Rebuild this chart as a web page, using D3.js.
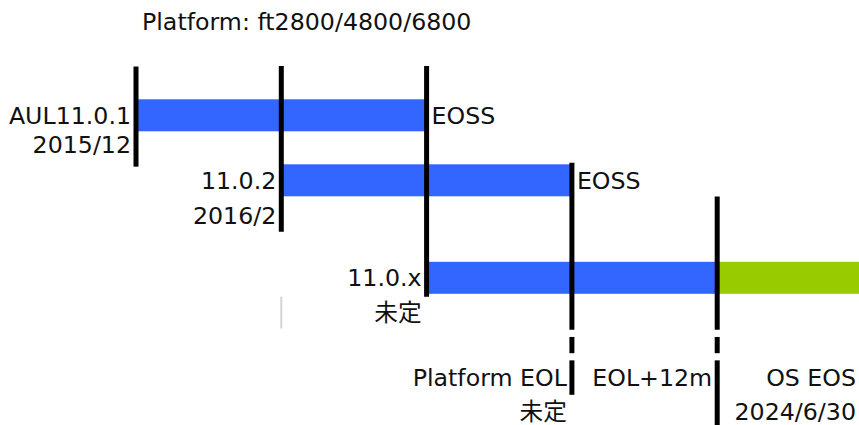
<!DOCTYPE html>
<html>
    <head>
        <title>Platform timeline</title>
        <style>
            body { margin: 0; background: #fff; }
            text { font-family: "DejaVu Sans", "Noto Sans CJK JP", sans-serif; font-size: 23.7px; fill: #111; }
        </style>
    </head>
    <body>
        <svg width="859" height="425" id="lienzo"></svg>

        <script src="https://cdn.jsdelivr.net/npm/d3@7/dist/d3.min.js"></script>
        <script>
            // releases: name, release date, start step, end step, end label
            const releaseNames = ["AUL11.0.1", "11.0.2", "11.0.x"]
            const releaseDates = ["2015/12", "2016/2", "未定"]
            const releaseRows = [0, 1, 2.5]
            const releaseDateRows = [0.585, 1.67, 3.16]
            const releaseStart = [0, 1, 2]
            const releaseEnd = [2, 3, 4]
            const releaseEndLabels = ["EOSS", "EOSS", ""]

            // OS support after EOL+12m (runs off the right edge)
            const osSupport = [4, 5.2]

            // vertical markers: step, top row, bottom row of the solid part
            const markerSteps = [0, 1, 2, 3, 4]
            const markerTop = [-0.75, -0.76, -0.76, 0.73, 1.25]
            const markerBottom = [0.79, 1.79, 2.79, 3.30, 3.30]
            // lower markers: dash part and lower solid part
            const lowerSteps = [3, 4]
            const dashTop = [3.41, 3.41]
            const dashBottom = [3.66, 3.66]
            const lowerTop = [3.77, 3.77]
            const lowerBottom = [4.30, 4.77]

            // milestone labels under the chart
            const milestoneSteps = [3, 4, 5]
            const milestoneNames = ["Platform EOL", "EOL+12m", "OS EOS"]
            const milestoneDates = ["未定", "", "2024/6/30"]

            const title = "Platform: ft2800/4800/6800"

            const svg = d3.select("#lienzo")

            const xScale = d3.scaleLinear()
                .domain([0, 1])
                .range([136, 281.3])

            const yScale = d3.scaleLinear()
                .domain([0, 1])
                .range([115.3, 180.3])

            const barHalf = 16

            svg.append("text")
                .attr("x", 142)
                .attr("y", 30)
                .text(title)

            // blue release bars
            svg.selectAll("rect.release")
                .data(releaseNames)
                .enter()
                .append("rect")
                .attr("class", "release")
                .attr("x", (d, i) => xScale(releaseStart[i]))
                .attr("y", (d, i) => yScale(releaseRows[i]) - barHalf)
                .attr("width", (d, i) => xScale(releaseEnd[i]) - xScale(releaseStart[i]))
                .attr("height", barHalf * 2)
                .attr("fill", "#3366ff")

            // green OS support bar
            svg.append("rect")
                .attr("x", xScale(osSupport[0]))
                .attr("y", yScale(2.5) - barHalf)
                .attr("width", xScale(osSupport[1]) - xScale(osSupport[0]))
                .attr("height", barHalf * 2)
                .attr("fill", "#99cc00")

            // faint grey tick under 11.0.2
            svg.append("line")
                .attr("x1", xScale(1)).attr("x2", xScale(1))
                .attr("y1", yScale(2.79)).attr("y2", yScale(3.28))
                .attr("stroke", "#d4d4d4")
                .attr("stroke-width", 2)

            // black markers
            svg.selectAll("line.marker")
                .data(markerSteps)
                .enter()
                .append("line")
                .attr("class", "marker")
                .attr("x1", d => xScale(d)).attr("x2", d => xScale(d))
                .attr("y1", (d, i) => yScale(markerTop[i]))
                .attr("y2", (d, i) => yScale(markerBottom[i]))
                .attr("stroke", "#000")
                .attr("stroke-width", 5)

            svg.selectAll("line.dash")
                .data(lowerSteps)
                .enter()
                .append("line")
                .attr("class", "dash")
                .attr("x1", d => xScale(d)).attr("x2", d => xScale(d))
                .attr("y1", (d, i) => yScale(dashTop[i]))
                .attr("y2", (d, i) => yScale(dashBottom[i]))
                .attr("stroke", "#000")
                .attr("stroke-width", 5)

            svg.selectAll("line.lower")
                .data(lowerSteps)
                .enter()
                .append("line")
                .attr("class", "lower")
                .attr("x1", d => xScale(d)).attr("x2", d => xScale(d))
                .attr("y1", (d, i) => yScale(lowerTop[i]))
                .attr("y2", (d, i) => yScale(lowerBottom[i]))
                .attr("stroke", "#000")
                .attr("stroke-width", 5)

            // release labels, left of the start marker
            svg.selectAll("text.name")
                .data(releaseNames)
                .enter()
                .append("text")
                .attr("class", "name")
                .attr("text-anchor", "end")
                .attr("x", (d, i) => xScale(releaseStart[i]) - 5)
                .attr("y", (d, i) => yScale(releaseRows[i]) + 8.5)
                .text(d => d)

            svg.selectAll("text.date")
                .data(releaseDates)
                .enter()
                .append("text")
                .attr("class", "date")
                .attr("text-anchor", "end")
                .attr("x", (d, i) => xScale(releaseStart[i]) - 5)
                .attr("y", (d, i) => yScale(releaseDateRows[i]))
                .text(d => d)

            svg.selectAll("text.end")
                .data(releaseEndLabels)
                .enter()
                .append("text")
                .attr("class", "end")
                .attr("x", (d, i) => xScale(releaseEnd[i]) + 5)
                .attr("y", (d, i) => yScale(releaseRows[i]) + 8.5)
                .text(d => d)

            // milestone labels
            svg.selectAll("text.milestone")
                .data(milestoneNames)
                .enter()
                .append("text")
                .attr("class", "milestone")
                .attr("text-anchor", "end")
                .attr("x", (d, i) => Math.min(xScale(milestoneSteps[i]) - 5, 856))
                .attr("y", yScale(4.165))
                .text(d => d)

            svg.selectAll("text.mdate")
                .data(milestoneDates)
                .enter()
                .append("text")
                .attr("class", "mdate")
                .attr("text-anchor", "end")
                .attr("x", (d, i) => Math.min(xScale(milestoneSteps[i]) - 5, 856))
                .attr("y", yScale(4.69))
                .text(d => d)
        </script>
    </body>
</html>
